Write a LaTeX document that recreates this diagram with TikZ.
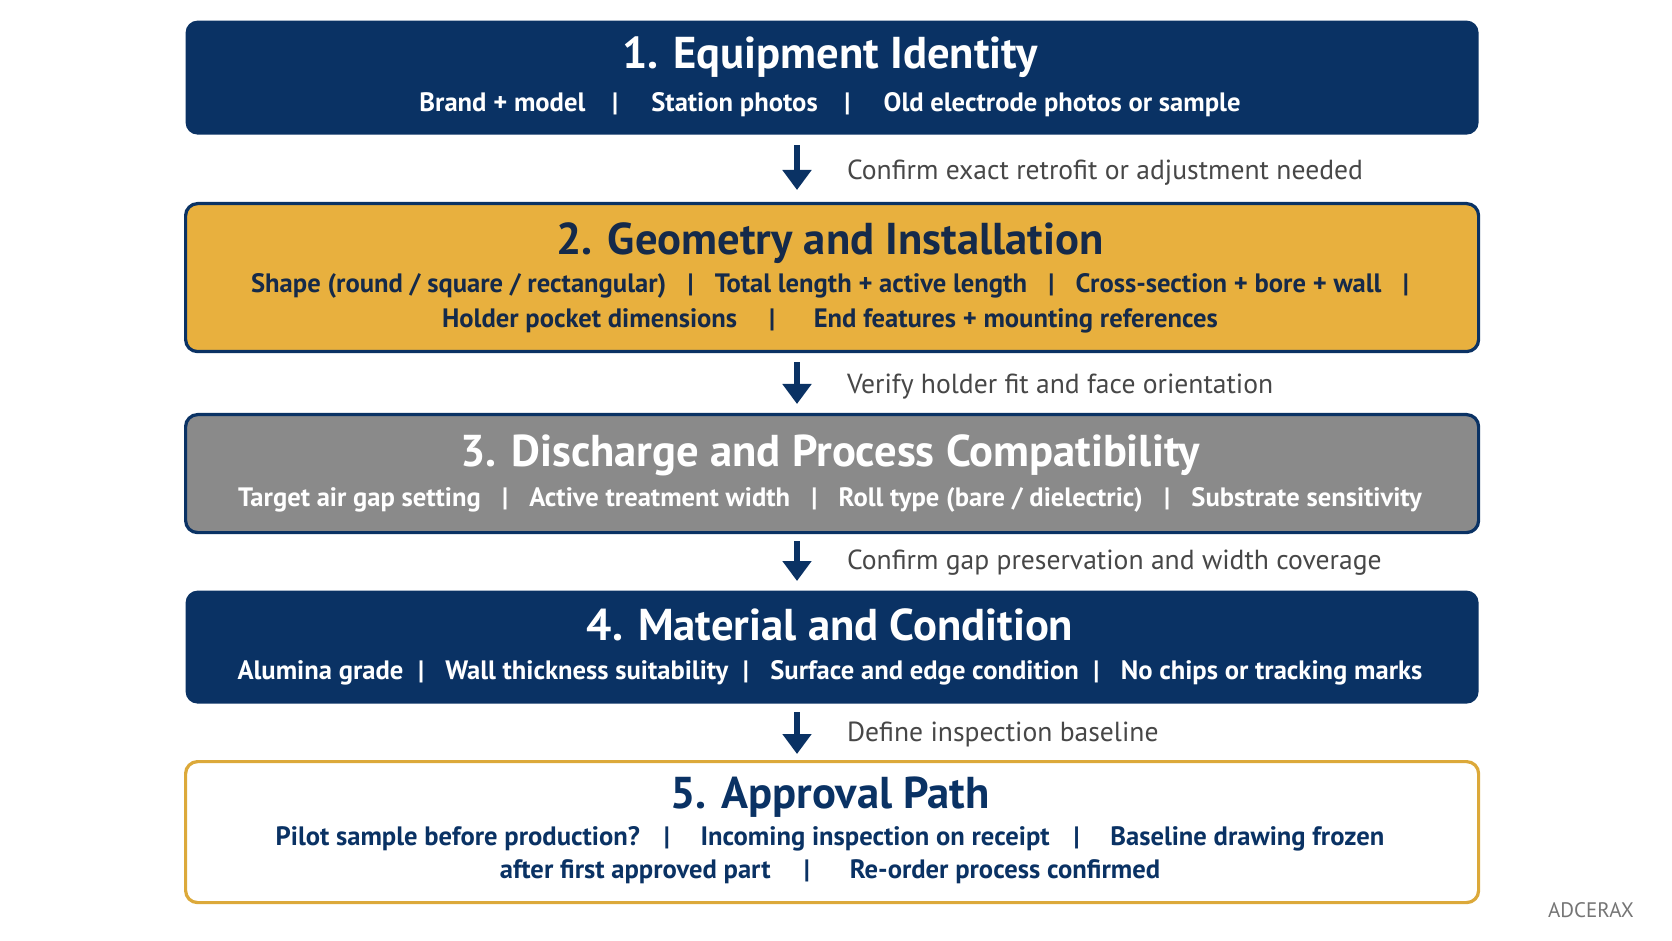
\documentclass[tikz,border=0pt]{standalone}
\usepackage{fontspec}
\setmainfont{PT Sans}
\usetikzlibrary{arrows.meta}
\definecolor{adNavy}{HTML}{0A3264}
\definecolor{adGold}{HTML}{E8B03E}
\definecolor{adGoldLine}{HTML}{DCA93A}
\definecolor{adGray}{HTML}{8A8A8A}
\definecolor{adInk}{HTML}{152A4A}
\definecolor{adText}{HTML}{474747}
\newcommand{\divider}[1][0.8em]{\hspace{#1}|\hspace{#1}}

\begin{document}
\begin{tikzpicture}[x=0.5pt,y=-0.5pt,
  stage/.style={rounded corners=6pt,minimum width=646.5pt,inner sep=0pt,anchor=north west,line width=1.6pt},
  stagetitle/.style={font=\fontsize{22.3}{26}\selectfont\bfseries},
  stagedetail/.style={font=\fontsize{13.3}{17.5}\selectfont\bfseries,align=center},
  steplabel/.style={anchor=west,text=adText,font=\fontsize{13.8}{16}\selectfont},
  flowarrow/.style={adNavy,line width=3pt,-{Triangle[width=14pt,length=10pt]}}]
\useasboundingbox (0,0) rectangle (1672,941);
\fill[white] (0,0) rectangle (1672,941);
\coordinate (arrx) at (797,0);
% stage boxes
\node[stage,fill=adNavy,minimum height=57pt] (box1) at (184,19) {};
\node[stage,fill=adGold,draw=adNavy,minimum height=74pt] (box2) at (184,202) {};
\node[stage,fill=adGray,draw=adNavy,minimum height=59pt] (box3) at (184,413) {};
\node[stage,fill=adNavy,minimum height=56.5pt] (box4) at (184,589) {};
\node[stage,fill=white,draw=adGoldLine,minimum height=70.5pt] (box5) at (184,760) {};
% texts
\node[stagetitle,text=white] (t1) at (830,57) {1. Equipment Identity};
\node[stagedetail,text=white] (d1) at (830,105) {Brand + model\divider[1em] Station photos\divider[1em] Old electrode photos or sample};
\node[stagetitle,text=adInk] (t2) at (830,243) {2. Geometry and Installation};
\node[stagedetail,text=adInk] (d2) at (830,303) {Shape (round / square / rectangular)\divider Total length + active length\divider Cross-section + bore + wall\hspace{0.8em}|\\
  Holder pocket dimensions\divider[1.2em] End features + mounting references};
\node[stagetitle,text=white] (t3) at (830,455) {3. Discharge and Process Compatibility};
\node[stagedetail,text=white] (d3) at (830,500) {Target air gap setting\divider Active treatment width\divider Roll type (bare / dielectric)\divider Substrate sensitivity};
\node[stagetitle,text=white] (t4) at (830,625) {4. Material and Condition};
\node[stagedetail,text=white] (d4) at (830,673) {Alumina grade\divider[0.55em] Wall thickness suitability\divider[0.55em] Surface and edge condition\divider[0.55em] No chips or tracking marks};
\node[stagetitle,text=adNavy] (t5) at (830,797) {5. Approval Path};
\node[stagedetail,text=adNavy,font=\fontsize{13.3}{16.5}\selectfont\bfseries] (d5) at (830,855) {Pilot sample before production?\divider[0.9em] Incoming inspection on receipt\divider[0.9em] Baseline drawing frozen\\
  after first approved part\divider[1.25em] Re-order process confirmed};
% arrows and their notes
\draw[flowarrow,shorten <=4.5pt,shorten >=6pt] (box1.south -| arrx) -- (box2.north -| arrx);
\draw[flowarrow,shorten <=4.5pt,shorten >=4.5pt] (box2.south -| arrx) -- (box3.north -| arrx);
\draw[flowarrow,shorten <=3.5pt,shorten >=4pt] (box3.south -| arrx) -- (box4.north -| arrx);
\draw[flowarrow,shorten <=3.5pt,shorten >=3pt] (box4.south -| arrx) -- (box5.north -| arrx);
\node[steplabel] (n1) at (840,173) {Confirm exact retrofit or adjustment needed};
\node[steplabel] (n2) at (840,387) {Verify holder fit and face orientation};
\node[steplabel] (n3) at (840,563) {Confirm gap preservation and width coverage};
\node[steplabel] (n4) at (840,734) {Define inspection baseline};
\node[text=adGray!85!black,font=\fontsize{10.5}{12}\selectfont] (brand) at (1591,910) {ADCERAX};
\end{tikzpicture}
\end{document}
